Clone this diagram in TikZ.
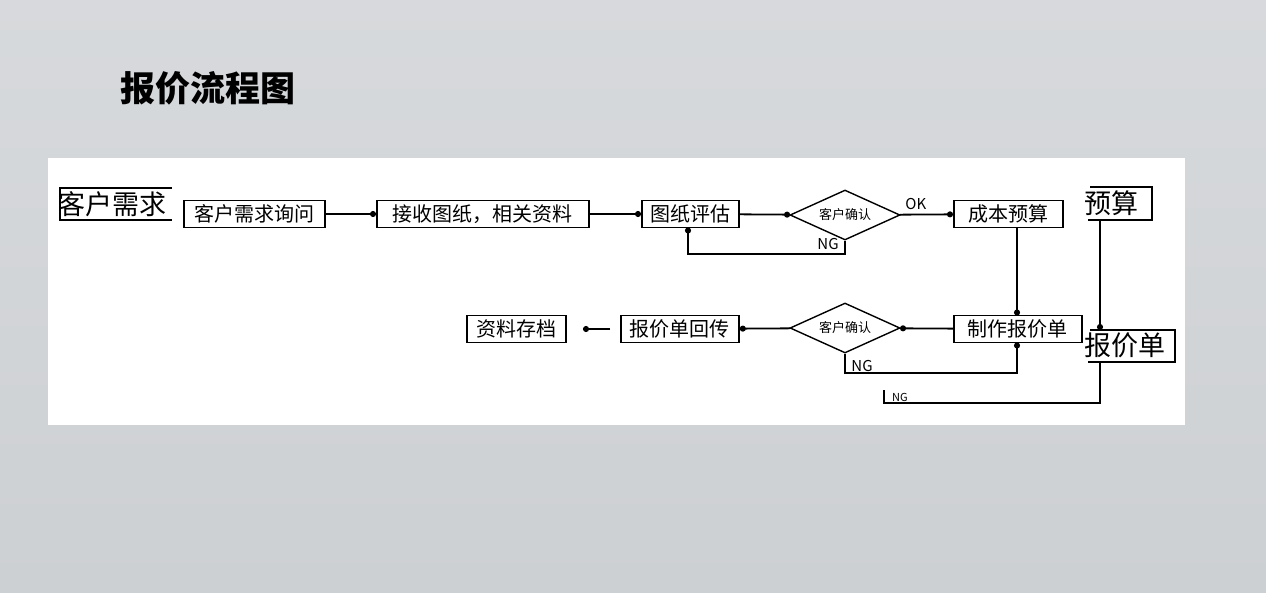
\documentclass[tikz,border=0pt]{standalone}
\usepackage{fontspec}
\setmainfont{Noto Sans CJK SC}
\usetikzlibrary{shapes.geometric,arrows.meta}
\definecolor{bgc}{HTML}{CDD0D3}
\tikzset{
 box/.style={draw,line width=1.8pt,inner sep=0pt,minimum height=27pt,font=\fontsize{20}{20}\selectfont,anchor=west},
 dia/.style={draw,line width=1.4pt,diamond,aspect=2.2,minimum width=110pt,minimum height=50pt,inner sep=0pt,font=\fontsize{13}{13}\selectfont},
 ln/.style={line width=1.8pt},
 ar/.style={line width=1.8pt,-{Circle[length=6pt]}},
 lab/.style={font=\fontsize{15}{15}\selectfont\rmfamily}
}
\begin{document}
\begin{tikzpicture}[x=1pt,y=-1pt]
\useasboundingbox (0,0) rectangle (1266,592);
\shade[top color=bgc!80!white,bottom color=bgc] (0,0) rectangle (1266,592);
\node[font=\fontsize{35}{35}\selectfont\bfseries,anchor=west,inner sep=0pt] (title) at (120,88) {报价流程图};
\fill[white] (48,158) rectangle (1185,425);
\draw[ln] (172,188) -- (60,188) -- (60,220) -- (172,220);
\node[anchor=west,inner sep=0pt,font=\fontsize{27}{27}\selectfont] (req) at (58,204) {客户需求};
\node[box,minimum width=141pt] (ask) at (183,214) {客户需求询问};
\node[box,minimum width=212pt] (recv) at (376,214) {接收图纸，相关资料};
\node[box,minimum width=97pt] (eval) at (641,214) {图纸评估};
\node[dia] (d1) at (845,215) {客户确认};
\node[box,minimum width=109pt] (cost) at (953,214) {成本预算};
\draw[ln] (1090,187) -- (1152,187) -- (1152,220) -- (1088,220);
\node[anchor=west,inner sep=0pt,font=\fontsize{27}{27}\selectfont] (bud) at (1084,203) {预算};
\node[box,minimum width=128pt] (make) at (953,329) {制作报价单};
\node[dia] (d2) at (845,328) {客户确认};
\node[box,minimum width=118pt] (back) at (620,329) {报价单回传};
\node[box,minimum width=99pt] (arch) at (466,329) {资料存档};
\coordinate (archin) at (583,329);
\draw[ln] (1090,330) -- (1175,330) -- (1175,362) -- (1088,362);
\node[anchor=west,inner sep=0pt,font=\fontsize{27}{27}\selectfont] (quote) at (1084,345) {报价单};
\draw[ar] (ask) -- (recv);
\draw[ar] (recv) -- (eval);
\draw[ar] (eval) -- (d1);
\draw[ar] (d1) -- node[lab,above=1pt,pos=0.3] {OK} (cost);
\draw[ar] (d1.south) -- (845,254) -- (688,254) -- (688,227.5);
\node[lab] at (828,244) {NG};
\draw[ar] (1017,227.5) -- (1017,315.5);
\draw[ar] (make) -- (d2);
\draw[ar] (d2) -- (back);
\draw[ar] (610,329) -- (archin);
\draw[ar] (d2.south) -- (845,373) -- (1017,373) -- (1017,342.5);
\node[lab] at (862,366) {NG};
\draw[ar] (1100,220) -- (1100,330);
\draw[ln] (1100,362) -- (1100,403) -- (884,403) -- (884,390);
\node[lab,font=\fontsize{11}{11}\selectfont] at (900,397) {NG};
\end{tikzpicture}
\end{document}
